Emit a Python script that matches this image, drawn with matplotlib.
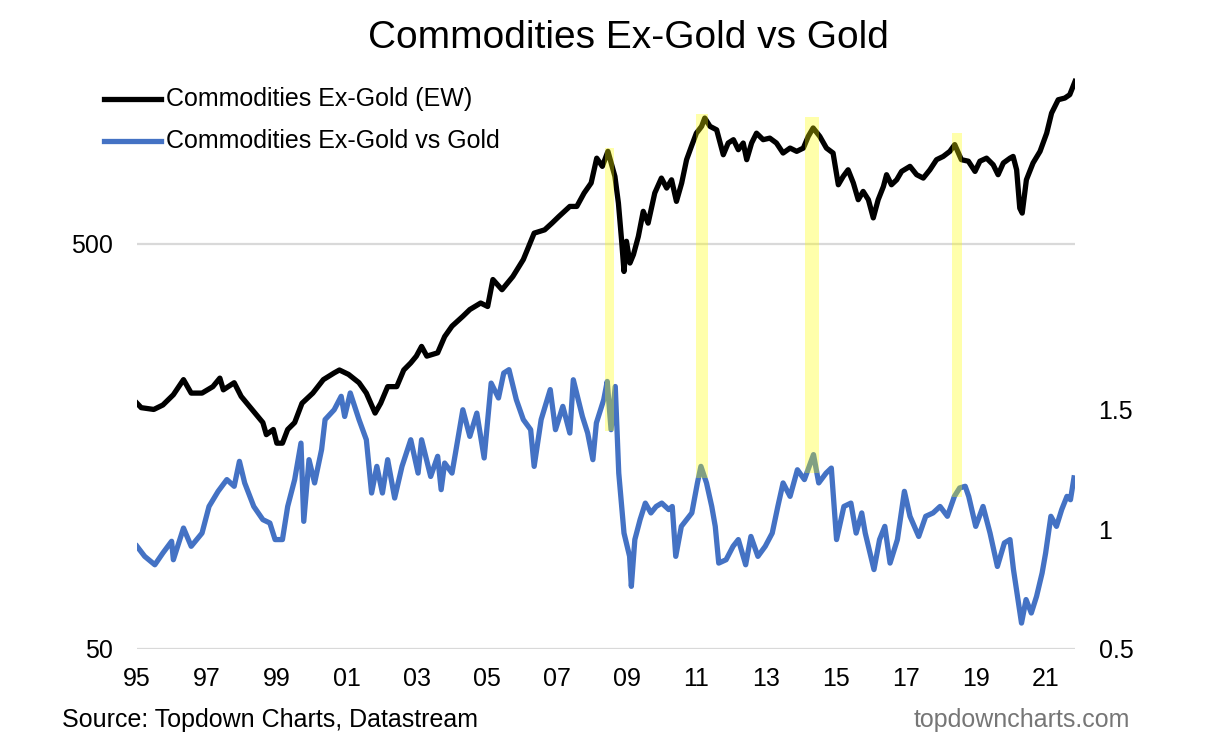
import matplotlib
matplotlib.use("Agg")
import matplotlib.pyplot as plt
from matplotlib.lines import Line2D
from matplotlib.ticker import FixedLocator, NullLocator, FixedFormatter

plt.rcParams['font.family'] = ['Liberation Sans', 'DejaVu Sans']

# ---------------- data ----------------
title = "Commodities Ex-Gold vs Gold"
label_black = "Commodities Ex-Gold (EW)"
label_blue = "Commodities Ex-Gold vs Gold"

black_years = [1995.0, 1995.12, 1995.48, 1995.74, 1996.04, 1996.33, 1996.55, 1996.86, 1997.17, 1997.37,
               1997.47, 1997.78, 1997.98, 1998.29, 1998.6, 1998.7, 1998.9, 1999.0, 1999.16, 1999.31,
               1999.51, 1999.72, 2000.03, 2000.33, 2000.64, 2000.79, 2001.05, 2001.35, 2001.56, 2001.81,
               2001.97, 2002.17, 2002.43, 2002.63, 2002.83, 2002.99, 2003.14, 2003.29, 2003.6, 2003.8,
               2004.01, 2004.32, 2004.52, 2004.83, 2005.03, 2005.18, 2005.44, 2005.75, 2006.05, 2006.36,
               2006.66, 2006.87, 2007.07, 2007.38, 2007.58, 2007.79, 2007.99, 2008.15, 2008.31, 2008.47,
               2008.67, 2008.77, 2008.86, 2008.93, 2009.0, 2009.1, 2009.2, 2009.34, 2009.48, 2009.62,
               2009.81, 2010.0, 2010.15, 2010.29, 2010.43, 2010.58, 2010.72, 2010.86, 2011.0, 2011.15,
               2011.24, 2011.39, 2011.58, 2011.77, 2011.91, 2012.06, 2012.2, 2012.34, 2012.44, 2012.58,
               2012.72, 2012.91, 2013.1, 2013.29, 2013.48, 2013.68, 2013.87, 2014.06, 2014.2, 2014.34,
               2014.53, 2014.72, 2014.91, 2015.06, 2015.2, 2015.34, 2015.49, 2015.63, 2015.77, 2015.92,
               2016.06, 2016.2, 2016.35, 2016.44, 2016.58, 2016.73, 2016.87, 2017.11, 2017.3, 2017.49,
               2017.68, 2017.87, 2018.06, 2018.25, 2018.39, 2018.58, 2018.78, 2018.97, 2019.11, 2019.3,
               2019.49, 2019.63, 2019.78, 2019.97, 2020.06, 2020.16, 2020.25, 2020.32, 2020.44, 2020.63,
               2020.83, 2021.02, 2021.16, 2021.35, 2021.54, 2021.68, 2021.83]
black_values = [202, 197, 195, 200, 212, 231, 214, 214, 222, 233,
                218, 227, 210, 195, 181, 169, 174, 161, 161, 174,
                181, 202, 214, 231, 240, 244, 238, 227, 214, 191,
                202, 222, 222, 244, 254, 264, 279, 264, 269, 295,
                313, 331, 344, 357, 350, 408, 385, 415, 457, 531,
                541, 562, 584, 618, 618, 667, 706, 813, 776, 845,
                733, 630, 511, 427, 507, 448, 470, 521, 601, 562,
                667, 726, 686, 719, 636, 706, 806, 870, 937, 974,
                1021, 974, 955, 829, 886, 903, 853, 886, 806, 886,
                937, 903, 911, 886, 837, 861, 845, 861, 920, 965,
                920, 861, 837, 699, 733, 761, 706, 642, 673, 642,
                579, 642, 692, 740, 699, 719, 754, 776, 740, 726,
                761, 806, 821, 845, 878, 806, 799, 754, 799, 813,
                783, 740, 791, 813, 821, 761, 612, 595, 719, 791,
                845, 937, 1050, 1133, 1144, 1166, 1257]

blue_years = [1995.0, 1995.22, 1995.51, 1995.74, 1995.99, 1996.04, 1996.33, 1996.55, 1996.86, 1997.06,
              1997.32, 1997.57, 1997.78, 1997.93, 1998.08, 1998.34, 1998.6, 1998.8, 1998.95, 1999.16,
              1999.31, 1999.51, 1999.69, 1999.77, 1999.92, 2000.08, 2000.28, 2000.38, 2000.64, 2000.84,
              2000.94, 2001.1, 2001.35, 2001.56, 2001.71, 2001.86, 2002.02, 2002.17, 2002.37, 2002.58,
              2002.83, 2003.04, 2003.14, 2003.4, 2003.6, 2003.7, 2003.8, 2004.01, 2004.11, 2004.32,
              2004.52, 2004.72, 2004.93, 2005.13, 2005.34, 2005.49, 2005.64, 2005.85, 2006.05, 2006.26,
              2006.36, 2006.56, 2006.82, 2006.97, 2007.18, 2007.38, 2007.48, 2007.74, 2007.89, 2008.04,
              2008.14, 2008.35, 2008.45, 2008.56, 2008.68, 2008.78, 2008.93, 2009.09, 2009.14, 2009.24,
              2009.39, 2009.54, 2009.7, 2009.85, 2010.01, 2010.21, 2010.31, 2010.41, 2010.57, 2010.72,
              2010.87, 2011.03, 2011.13, 2011.29, 2011.44, 2011.54, 2011.64, 2011.85, 2012.05, 2012.2,
              2012.41, 2012.56, 2012.76, 2012.97, 2013.17, 2013.33, 2013.48, 2013.68, 2013.89, 2014.09,
              2014.35, 2014.5, 2014.71, 2014.86, 2015.01, 2015.22, 2015.42, 2015.57, 2015.73, 2015.83,
              2016.08, 2016.24, 2016.39, 2016.54, 2016.75, 2016.95, 2017.11, 2017.36, 2017.56, 2017.77,
              2017.97, 2018.18, 2018.38, 2018.53, 2018.69, 2018.79, 2018.99, 2019.2, 2019.4, 2019.61,
              2019.81, 2019.97, 2020.07, 2020.17, 2020.3, 2020.43, 2020.58, 2020.73, 2020.89, 2020.99,
              2021.14, 2021.3, 2021.45, 2021.6, 2021.7, 2021.8]
blue_values = [0.928, 0.886, 0.851, 0.900, 0.949, 0.872, 1.004, 0.928, 0.983, 1.094,
               1.157, 1.206, 1.178, 1.282, 1.192, 1.094, 1.039, 1.025, 0.956, 0.956,
               1.094, 1.206, 1.358, 1.032, 1.289, 1.192, 1.331, 1.456, 1.497, 1.553,
               1.469, 1.567, 1.456, 1.372, 1.150, 1.261, 1.150, 1.289, 1.129, 1.261,
               1.372, 1.233, 1.372, 1.219, 1.303, 1.164, 1.275, 1.233, 1.317, 1.497,
               1.386, 1.483, 1.296, 1.608, 1.546, 1.650, 1.664, 1.539, 1.456, 1.414,
               1.261, 1.456, 1.581, 1.414, 1.511, 1.400, 1.622, 1.469, 1.400, 1.289,
               1.442, 1.539, 1.615, 1.414, 1.594, 1.233, 0.983, 0.886, 0.761, 0.956,
               1.039, 1.108, 1.067, 1.094, 1.108, 1.081, 1.094, 0.886, 1.011, 1.039,
               1.067, 1.192, 1.261, 1.192, 1.094, 1.011, 0.858, 0.872, 0.928, 0.956,
               0.851, 0.969, 0.886, 0.928, 0.983, 1.094, 1.192, 1.136, 1.247, 1.206,
               1.310, 1.192, 1.233, 1.254, 0.956, 1.094, 1.108, 0.983, 1.067, 0.983,
               0.831, 0.956, 1.011, 0.858, 0.956, 1.157, 1.053, 0.969, 1.053, 1.067,
               1.094, 1.053, 1.136, 1.171, 1.178, 1.136, 1.011, 1.094, 0.983, 0.844,
               0.942, 0.956, 0.831, 0.733, 0.608, 0.706, 0.650, 0.719, 0.817, 0.900,
               1.053, 1.011, 1.081, 1.136, 1.122, 1.213]

# highlighted peaks (years, and their vertical extent in right-axis units)
hl_start = [2008.40, 2010.99, 2014.11, 2018.31]
hl_end = [2008.63, 2011.33, 2014.51, 2018.60]
hl_top = [2.586, 2.728, 2.715, 2.649]
hl_bottom = [1.407, 1.212, 1.233, 1.133]

x_tick_years = list(range(1995, 2022, 2))
x_tick_labels = ["95", "97", "99", "01", "03", "05", "07", "09", "11", "13", "15", "17", "19", "21"]
left_ticks = [50, 500]
right_ticks = [0.5, 1.0, 1.5]
right_tick_labels = ["0.5", "1", "1.5"]

# ---------------- figure ----------------
W, H = 1217, 748
fig = plt.figure(figsize=(W / 100, H / 100), dpi=100)
fig.patch.set_facecolor('white')

ax_l, ax_r, ax_b, ax_t = 137, 1075, 649, 75
ax = fig.add_axes([ax_l / W, 1 - ax_b / H, (ax_r - ax_l) / W, (ax_b - ax_t) / H])
ax.set_yscale('log')
ax.set_ylim(50, 1304)
ax.set_xlim(1995.0, 2021.83)

ax2 = ax.twinx()
ax2.set_ylim(0.5, 2.892)

for a in (ax, ax2):
    for s in a.spines.values():
        s.set_visible(False)
    a.tick_params(length=0)

ax.yaxis.set_major_locator(FixedLocator(left_ticks))
ax.yaxis.set_major_formatter(FixedFormatter([str(v) for v in left_ticks]))
ax.yaxis.set_minor_locator(NullLocator())
ax.tick_params(axis='y', labelsize=18, pad=17, colors='black')
ax.grid(axis='y', which='major', color='#D9D9D9', linewidth=1.6)
ax.grid(axis='x', visible=False)

ax.set_xticks(x_tick_years)
ax.set_xticklabels(x_tick_labels)
ax.tick_params(axis='x', labelsize=18, pad=13)

ax2.set_yticks(right_ticks)
ax2.set_yticklabels(right_tick_labels)
ax2.tick_params(axis='y', labelsize=18, pad=17)

ax.plot(black_years, black_values, color='black', linewidth=3.8, solid_joinstyle='round', zorder=3)
ax2.plot(blue_years, blue_values, color='#4472C4', linewidth=3.8, solid_joinstyle='round', zorder=3)

for xs, xe, yt, yb in zip(hl_start, hl_end, hl_top, hl_bottom):
    ax2.fill_between([xs, xe], [yb, yb], [yt, yt], color='#FFFF00', alpha=0.33,
                     linewidth=0, zorder=5)

# title
fig.text(628 / W, 1 - 38 / H, title, ha='center', va='center', fontsize=28)

# legend (manual)
for yy, col, lab in [(99, 'black', label_black), (141, '#4472C4', label_blue)]:
    fig.add_artist(Line2D([104 / W, 161 / W], [1 - yy / H, 1 - yy / H], color=col, linewidth=3.8))
    fig.text(166 / W, 1 - yy / H, lab, ha='left', va='center', fontsize=18)

# footer
fig.text(62 / W, 1 - 720 / H, "Source: Topdown Charts, Datastream", ha='left', va='center', fontsize=18)
fig.text(1130 / W, 1 - 720 / H, "topdowncharts.com", ha='right', va='center', fontsize=18,
         color='#767676')

fig.savefig('out.png', dpi=100, facecolor='white')
